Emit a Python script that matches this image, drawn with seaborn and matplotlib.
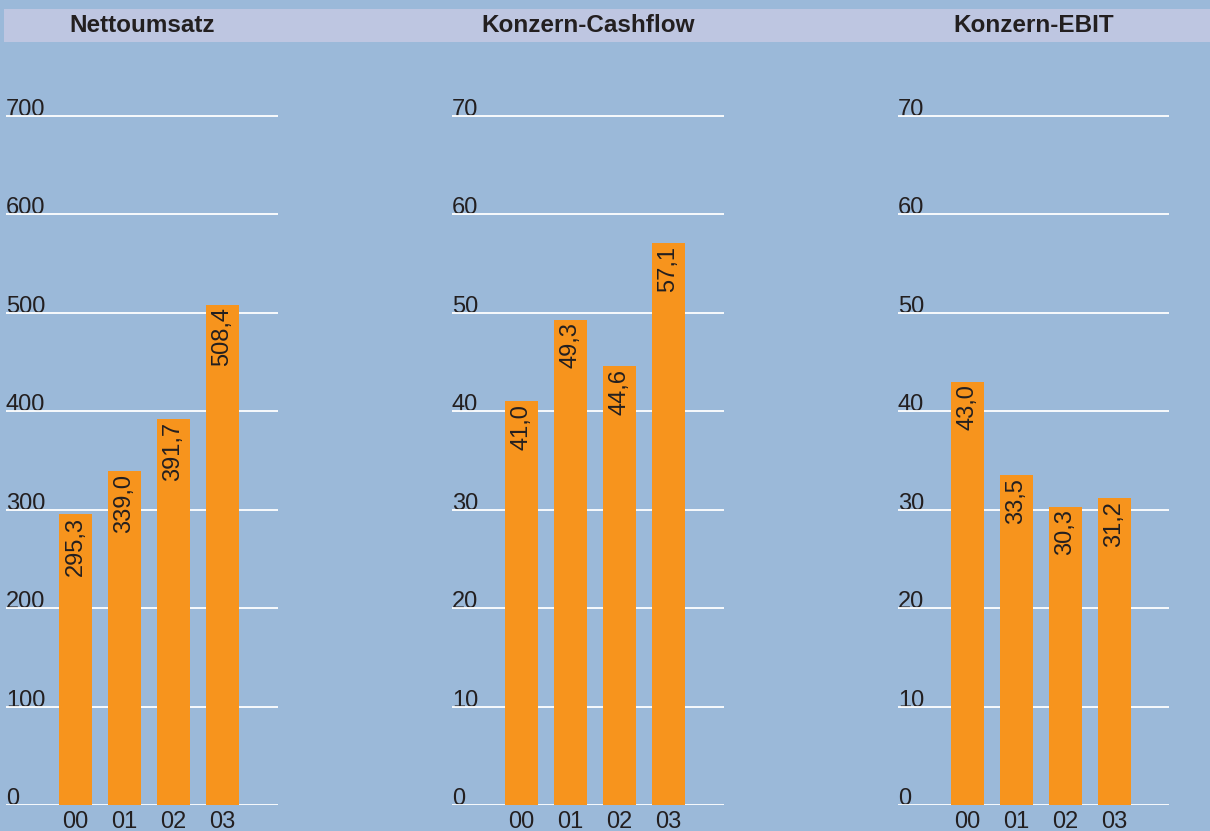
import matplotlib
matplotlib.use("Agg")
import matplotlib.pyplot as plt
from matplotlib.patches import Rectangle
import seaborn as sns
import pandas as pd

years = ["00", "01", "02", "03"]
titles = ["Nettoumsatz", "Konzern-Cashflow", "Konzern-EBIT"]
umsatz = [295.3, 339.0, 391.7, 508.4]
cashflow = [41.0, 49.3, 44.6, 57.1]
ebit = [43.0, 33.5, 30.3, 31.2]
ticks_big = [0, 100, 200, 300, 400, 500, 600, 700]
ticks_small = [0, 10, 20, 30, 40, 50, 60, 70]

series = [umsatz, cashflow, ebit]
tick_sets = [ticks_big, ticks_small, ticks_small]
ymax = [750, 75, 75]

BG = "#9bb9d9"
HEAD = "#bec6e1"
ORANGE = "#f7941d"
TXT = "#231f20"

sns.set_theme(style="white")
plt.rcParams["font.family"] = ["Liberation Sans", "DejaVu Sans"]

W, H = 1210, 831
fig = plt.figure(figsize=(W / 100, H / 100), dpi=100, facecolor=BG)

# header band
fig.patches.append(Rectangle((4 / W, 1 - 42 / H), 1 - 4 / W, 33 / H,
                             transform=fig.transFigure, facecolor=HEAD,
                             edgecolor="none", zorder=0))

lefts = [6, 452, 898]
widths = [272, 272, 271]
px_per_unit_700 = (805 - 116) / 700.0
bottom_px = 805
fs = 17

for i in range(3):
    left = lefts[i]
    width = widths[i]
    height_px = ymax[i] * px_per_unit_700 * (700.0 / tick_sets[i][-1])
    ax = fig.add_axes([left / W, (H - bottom_px) / H, width / W, height_px / H])
    ax.set_facecolor("none")
    df = pd.DataFrame({"year": years, "value": series[i]})
    sns.barplot(data=df, x="year", y="value", color=ORANGE, saturation=1,
                width=33 / 49, ax=ax, zorder=3, edgecolor="none", linewidth=0)
    x0 = -69.5 / 49
    ax.set_xlim(x0, x0 + width / 49)
    ax.set_ylim(0, ymax[i])
    for s in ax.spines.values():
        s.set_visible(False)
    ax.set_yticks([])
    ax.set_ylabel("")
    ax.set_xlabel("")
    for t in tick_sets[i]:
        ax.axhline(t, color="white", lw=1.3, zorder=2)
        ax.text(0, t, str(t), transform=ax.get_yaxis_transform(),
                ha="left", va="baseline", fontsize=fs, color=TXT, zorder=1)
    ax.tick_params(axis="x", length=0, pad=4, labelsize=fs, labelcolor=TXT)
    for j, v in enumerate(series[i]):
        ax.annotate(f"{v:.1f}".replace(".", ","), xy=(j, v), xytext=(0, -2),
                    textcoords="offset points", rotation=90, ha="center",
                    va="top", fontsize=fs, color=TXT, zorder=4)
    fig.text((left + width / 2) / W, 1 - 25.5 / H, titles[i], ha="center",
             va="center", fontsize=17.5, fontweight="bold", color=TXT)

fig.savefig("out.png", dpi=100, facecolor=BG)
